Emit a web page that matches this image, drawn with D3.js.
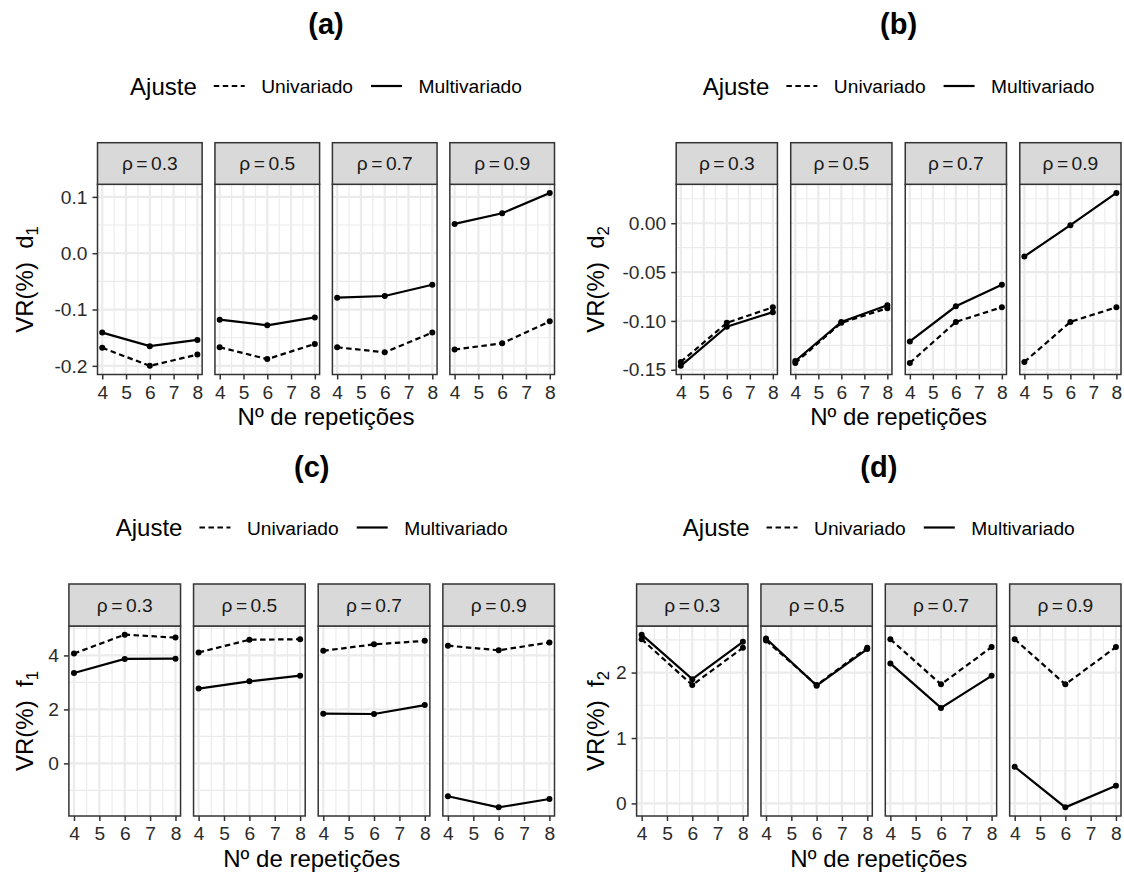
<!DOCTYPE html>
<html>
<head>
<meta charset="utf-8">
<script src="https://cdn.jsdelivr.net/npm/d3@7"></script>
<style>body{margin:0;background:#fff;}</style>
</head>
<body>
<svg id="chart" width="1124" height="875"></svg>
<script>
// ---------------- DATA ----------------
const reps = [4, 6, 8];
const rhoLabels = ["0.3", "0.5", "0.7", "0.9"];
const xTicks = [4, 5, 6, 7, 8];
const seriesNames = ["Univariado", "Multivariado"];
const legendTitle = "Ajuste";
const xTitle = "Nº de repetições";
const panelTitles = ["(a)", "(b)", "(c)", "(d)"];
const yVars = ["d", "d", "f", "f"];
const ySubs = ["1", "2", "1", "2"];

// (a) d1 — one row per rho (0.3, 0.5, 0.7, 0.9), values at reps 4, 6, 8
const d1Uni   = [[-0.168, -0.200, -0.180], [-0.167, -0.188, -0.161], [-0.167, -0.176, -0.141], [-0.171, -0.160, -0.121]];
const d1Multi = [[-0.141, -0.165, -0.154], [-0.118, -0.128, -0.114], [-0.079, -0.076, -0.056], [0.052, 0.071, 0.107]];
const d1Ticks = [-0.2, -0.1, 0.0, 0.1];
const d1TickLabels = ["-0.2", "-0.1", "0.0", "0.1"];

// (b) d2
const d2Uni   = [[-0.142, -0.102, -0.086], [-0.143, -0.102, -0.087], [-0.143, -0.101, -0.086], [-0.142, -0.101, -0.086]];
const d2Multi = [[-0.146, -0.106, -0.091], [-0.141, -0.101, -0.084], [-0.121, -0.085, -0.063], [-0.034, -0.002, 0.031]];
const d2Ticks = [-0.15, -0.10, -0.05, 0.00];
const d2TickLabels = ["-0.15", "-0.10", "-0.05", "0.00"];

// (c) f1
const f1Uni   = [[4.07, 4.77, 4.66], [4.11, 4.58, 4.60], [4.17, 4.41, 4.54], [4.36, 4.19, 4.48]];
const f1Multi = [[3.35, 3.87, 3.88], [2.77, 3.04, 3.25], [1.84, 1.83, 2.16], [-1.22, -1.63, -1.32]];
const f1Ticks = [0, 2, 4];
const f1TickLabels = ["0", "2", "4"];

// (d) f2
const f2Uni   = [[2.51, 1.81, 2.38], [2.49, 1.81, 2.38], [2.51, 1.82, 2.39], [2.51, 1.82, 2.39]];
const f2Multi = [[2.58, 1.90, 2.47], [2.52, 1.80, 2.36], [2.14, 1.46, 1.95], [0.56, -0.06, 0.27]];
const f2Ticks = [0, 1, 2];
const f2TickLabels = ["0", "1", "2"];

const subplots = [
  {uni: d1Uni, multi: d1Multi, ticks: d1Ticks, tickLabels: d1TickLabels},
  {uni: d2Uni, multi: d2Multi, ticks: d2Ticks, tickLabels: d2TickLabels},
  {uni: f1Uni, multi: f1Multi, ticks: f1Ticks, tickLabels: f1TickLabels},
  {uni: f2Uni, multi: f2Multi, ticks: f2Ticks, tickLabels: f2TickLabels}
];

// ---------------- LAYOUT ----------------
const layouts = [
  {left: 97.5,  right: 554.5, gap: 12.8, top: 142.7, stripH: 41.6, bottom: 374.5, yTitleX: 33,  titleY: 34,  legendY: 86},
  {left: 676.2, right: 1121,  gap: 13.3, top: 142.7, stripH: 41.6, bottom: 374.5, yTitleX: 604, titleY: 34,  legendY: 86},
  {left: 68.9,  right: 554.5, gap: 13,   top: 584,   stripH: 42,   bottom: 816,   yTitleX: 33,  titleY: 477, legendY: 527.5},
  {left: 636.6, right: 1121,  gap: 13,   top: 584,   stripH: 42,   bottom: 816,   yTitleX: 604, titleY: 477, legendY: 527.5}
];

const FONT = "'Liberation Sans', Arial, Helvetica, sans-serif";
const svg = d3.select("#chart");
svg.append("rect").attr("width", 1124).attr("height", 875).attr("fill", "#fff");

const dashPattern = "5.5,3.5";
const lineW = 2.2;

subplots.forEach((sp, si) => {
  const L = layouts[si];
  const W = (L.right - L.left - 3 * L.gap) / 4;
  const plotTop = L.top + L.stripH;
  const allVals = sp.uni.flat().concat(sp.multi.flat());
  const [mn, mx] = d3.extent(allVals);
  const pad = (mx - mn) * 0.05;
  const y = d3.scaleLinear().domain([mn - pad, mx + pad]).range([L.bottom, plotTop]);
  const step = sp.ticks[1] - sp.ticks[0];
  const yMinors = [];
  for (let v = sp.ticks[0] - step / 2; v <= mx + pad; v += step) if (v >= mn - pad) yMinors.push(v);
  const xMinors = [4.5, 5.5, 6.5, 7.5];
  const g = svg.append("g");

  rhoLabels.forEach((rho, pi) => {
    const px = L.left + pi * (W + L.gap);
    const x = d3.scaleLinear().domain([3.8, 8.2]).range([px, px + W]);
    const pg = g.append("g");
    pg.append("rect").attr("x", px).attr("y", plotTop).attr("width", W).attr("height", L.bottom - plotTop).attr("fill", "#fff");

    // minor grid
    pg.selectAll(".ymin").data(yMinors).join("line")
      .attr("x1", px).attr("x2", px + W).attr("y1", d => y(d)).attr("y2", d => y(d))
      .attr("stroke", "#EBEBEB").attr("stroke-width", 1.1);
    pg.selectAll(".xmin").data(xMinors).join("line")
      .attr("y1", plotTop).attr("y2", L.bottom).attr("x1", d => x(d)).attr("x2", d => x(d))
      .attr("stroke", "#EBEBEB").attr("stroke-width", 1.1);
    // major grid
    pg.selectAll(".ymaj").data(sp.ticks).join("line")
      .attr("x1", px).attr("x2", px + W).attr("y1", d => y(d)).attr("y2", d => y(d))
      .attr("stroke", "#EBEBEB").attr("stroke-width", 2.2);
    pg.selectAll(".xmaj").data(xTicks).join("line")
      .attr("y1", plotTop).attr("y2", L.bottom).attr("x1", d => x(d)).attr("x2", d => x(d))
      .attr("stroke", "#EBEBEB").attr("stroke-width", 2.2);

    // series
    const line = d3.line().x((d, i) => x(reps[i])).y(d => y(d));
    [[sp.uni[pi], dashPattern], [sp.multi[pi], null]].forEach(([vals, dash]) => {
      const p = pg.append("path").datum(vals).attr("d", line)
        .attr("fill", "none").attr("stroke", "#000").attr("stroke-width", lineW);
      if (dash) p.attr("stroke-dasharray", dash);
      pg.selectAll(null).data(vals).join("circle")
        .attr("cx", (d, i) => x(reps[i])).attr("cy", d => y(d)).attr("r", 3).attr("fill", "#000");
    });

    // border
    pg.append("rect").attr("x", px).attr("y", plotTop).attr("width", W).attr("height", L.bottom - plotTop)
      .attr("fill", "none").attr("stroke", "#333").attr("stroke-width", 1.5);

    // strip
    pg.append("rect").attr("x", px).attr("y", L.top).attr("width", W).attr("height", L.stripH)
      .attr("fill", "#D9D9D9").attr("stroke", "#333").attr("stroke-width", 1.5);
    const st = pg.append("text").attr("x", px + W / 2).attr("y", L.top + L.stripH / 2 + 6.8)
      .attr("text-anchor", "middle").attr("font-family", FONT).attr("font-size", 19.2).attr("fill", "#1A1A1A");
    st.append("tspan").text("ρ");
    st.append("tspan").attr("dx", 3.5).text("=");
    st.append("tspan").attr("dx", 3.5).text(rho);

    // x axis
    const xa = pg.append("g").attr("transform", `translate(0,${L.bottom})`)
      .call(d3.axisBottom(x).tickValues(xTicks).tickSize(5).tickPadding(5.4).tickFormat(d3.format("d")));
    xa.select(".domain").remove();
    xa.selectAll("line").attr("stroke", "#333").attr("stroke-width", 1.5);
    xa.selectAll("text").attr("font-size", 19.2).attr("font-family", FONT).attr("fill", "#2b2b2b");

    if (pi === 0) {
      const ya = pg.append("g").attr("transform", `translate(${px},0)`)
        .call(d3.axisLeft(y).tickValues(sp.ticks).tickSize(5).tickPadding(5).tickFormat((d, i) => sp.tickLabels[i]));
      ya.select(".domain").remove();
      ya.selectAll("line").attr("stroke", "#333").attr("stroke-width", 1.5);
      ya.selectAll("text").attr("font-size", 19.2).attr("font-family", FONT).attr("fill", "#2b2b2b");
    }
  });

  const cx = (L.left + L.right) / 2;

  // title
  svg.append("text").attr("x", cx).attr("y", L.titleY).attr("text-anchor", "middle")
    .attr("font-family", FONT).attr("font-weight", "bold").attr("font-size", 29).attr("fill", "#000")
    .text(panelTitles[si]);

  // x title
  svg.append("text").attr("x", cx).attr("y", L.bottom + 50.7).attr("text-anchor", "middle")
    .attr("font-family", FONT).attr("font-size", 24).attr("fill", "#000").text(xTitle);

  // y title
  const yt = svg.append("text")
    .attr("transform", `translate(${L.yTitleX},${(plotTop + L.bottom) / 2}) rotate(-90)`)
    .attr("text-anchor", "middle").attr("font-family", FONT).attr("font-size", 24).attr("fill", "#000");
  yt.append("tspan").text("VR(%)\u00A0\u00A0" + yVars[si]);
  yt.append("tspan").attr("font-size", 16.8).attr("dy", 5).text(ySubs[si]);

  // legend
  const lg = svg.append("g");
  let lx = 0;
  const t0 = lg.append("text").attr("x", lx).attr("y", 8.5).attr("font-family", FONT)
    .attr("font-size", 24).attr("fill", "#000").text(legendTitle);
  lx += t0.node().getComputedTextLength() + 17;
  seriesNames.forEach((nm, k) => {
    const ln = lg.append("line").attr("x1", lx).attr("x2", lx + 31).attr("y1", 0).attr("y2", 0)
      .attr("stroke", "#000").attr("stroke-width", lineW);
    if (k === 0) ln.attr("stroke-dasharray", dashPattern);
    lx += 31 + 16.5;
    const t = lg.append("text").attr("x", lx).attr("y", 7).attr("font-family", FONT)
      .attr("font-size", 19.2).attr("fill", "#000").text(nm);
    lx += t.node().getComputedTextLength() + (k === 0 ? 18 : 0);
  });
  lg.attr("transform", `translate(${cx - lx / 2},${L.legendY})`);
});
</script>
</body>
</html>
